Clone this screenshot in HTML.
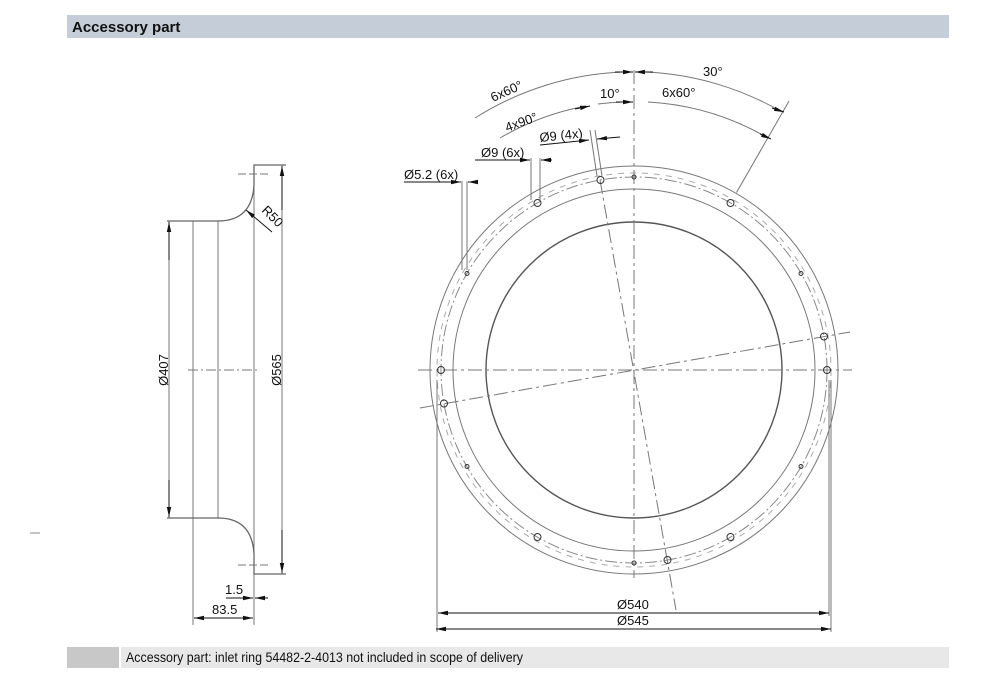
<!DOCTYPE html>
<html><head><meta charset="utf-8"><style>
body{margin:0;background:#fff;width:1000px;height:689px;overflow:hidden}
svg{display:block}
text{font-family:"Liberation Sans",Arial,sans-serif;fill:#111}
</style></head><body>
<svg width="1000" height="689" viewBox="0 0 1000 689">
<defs>
<marker id="a" markerWidth="10" markerHeight="6" refX="10" refY="3" orient="auto" markerUnits="userSpaceOnUse"><path d="M0,0.8 L10,3 L0,5.2z" fill="#111"/></marker>
</defs>
<rect x="67" y="15" width="882" height="23" fill="#c5ced8"/>
<text x="72" y="32" font-size="15" font-weight="bold">Accessory part</text>
<rect x="67" y="647" width="52" height="21" fill="#c8c8c8"/>
<rect x="121" y="647" width="828" height="21" fill="#e8e8e8"/>
<text x="126" y="662" font-size="14" textLength="397" lengthAdjust="spacingAndGlyphs">Accessory part: inlet ring 54482-2-4013 not included in scope of delivery</text>
<line x1="30" y1="533" x2="40" y2="533" stroke="#888" stroke-width="1"/>

<g stroke="#777" fill="none" stroke-width="1">
<line x1="169" y1="221" x2="169" y2="518"/>
<line x1="193" y1="221" x2="193" y2="625"/>
<line x1="218" y1="221" x2="218" y2="518"/>
<line x1="254" y1="165" x2="254" y2="625"/>
<line x1="282" y1="165" x2="282" y2="574"/>
<path d="M167,221 L218,221 Q252,221 254,185 L254,165 L286,165" stroke="#666" stroke-width="1.3"/>
<path d="M167,518 L218,518 Q252,518 254,554 L254,574 L286,574" stroke="#666" stroke-width="1.3"/>
<line x1="238" y1="174" x2="268" y2="174" stroke-dasharray="8,3"/>
<line x1="238" y1="565" x2="268" y2="565" stroke-dasharray="8,3"/>
<line x1="188" y1="370" x2="258" y2="370" stroke-dasharray="10,3,2,3"/>
</g>
<g stroke="#111" stroke-width="1">
<line x1="169" y1="260" x2="169" y2="222" marker-end="url(#a)"/>
<line x1="169" y1="480" x2="169" y2="517" marker-end="url(#a)"/>
<line x1="282" y1="210" x2="282" y2="166" marker-end="url(#a)"/>
<line x1="282" y1="530" x2="282" y2="573" marker-end="url(#a)"/>
<line x1="272" y1="232" x2="246" y2="210" marker-end="url(#a)"/>
<line x1="223" y1="618" x2="194" y2="618" marker-end="url(#a)"/>
<line x1="223" y1="618" x2="253" y2="618" marker-end="url(#a)"/>
<line x1="226" y1="598" x2="253" y2="598" marker-end="url(#a)"/>
<line x1="268" y1="598" x2="255" y2="598" marker-end="url(#a)"/>
</g>
<text x="166" y="372" font-size="13" text-anchor="middle" transform="rotate(-90 166 370)">Ø407</text>
<text x="279" y="372" font-size="13" text-anchor="middle" transform="rotate(-90 279 370)">Ø565</text>
<text x="261" y="211" font-size="13" transform="rotate(45 261 211)">R50</text>
<text x="225" y="594" font-size="13">1.5</text>
<text x="212" y="614" font-size="13">83.5</text>

<g fill="none" stroke="#777" stroke-width="1">
<circle cx="634" cy="370" r="204"/>
<circle cx="634" cy="370" r="181"/>
<circle cx="634" cy="370" r="193" stroke-dasharray="12,3,2,3" stroke="#888"/>
<circle cx="634" cy="370" r="197" stroke-dasharray="6,6" stroke="#aaa"/>
<circle cx="634" cy="370" r="148" stroke="#555" stroke-width="1.4"/>
<line x1="418" y1="370" x2="852" y2="370" stroke-dasharray="14,4,3,4"/>
<line x1="634" y1="70" x2="634" y2="578" stroke-dasharray="14,4,3,4"/>
<line x1="600" y1="180" x2="676" y2="610" stroke-dasharray="14,4,3,4"/>
<line x1="420" y1="408" x2="850" y2="332" stroke-dasharray="14,4,3,4"/>
<line x1="590" y1="130" x2="597" y2="176"/>
<line x1="595" y1="130" x2="602" y2="176"/>
<line x1="531" y1="158" x2="531" y2="200"/>
<line x1="540" y1="158" x2="540" y2="200"/>
<line x1="462" y1="181" x2="462" y2="270"/>
<line x1="467" y1="181" x2="467" y2="270"/>
<line x1="437" y1="380" x2="437" y2="632"/>
<line x1="829" y1="380" x2="829" y2="616"/>
<line x1="831" y1="380" x2="831" y2="632"/>
<line x1="736.5" y1="192.5" x2="789" y2="101"/>
<g stroke="#333">
<circle cx="730.5" cy="203" r="3.5"/><circle cx="827" cy="370" r="3.5"/><circle cx="730.5" cy="537" r="3.5"/>
<circle cx="537.5" cy="537" r="3.5"/><circle cx="441" cy="370" r="3.5"/><circle cx="537.5" cy="203" r="3.5"/>
<circle cx="600.5" cy="180" r="3.5"/><circle cx="824" cy="336.5" r="3.5"/><circle cx="667.5" cy="560" r="3.5"/><circle cx="444" cy="403.5" r="3.5"/>
<circle cx="634" cy="177" r="2"/><circle cx="801" cy="273.5" r="2"/><circle cx="801" cy="466.5" r="2"/>
<circle cx="634" cy="563" r="2"/><circle cx="467" cy="466.5" r="2"/><circle cx="467" cy="273.5" r="2"/>
</g>
<path d="M475,118 A298,298 0 0 1 622,72"/>
<path d="M646,72 A298,298 0 0 1 782,112"/>
<path d="M500,138 A268,268 0 0 1 586,106"/>
<path d="M598,104 A268,268 0 0 1 622,102"/>
<path d="M648,102 A268,268 0 0 1 768,138"/>
</g>
<g stroke="#111" stroke-width="1" fill="none">
<line x1="615" y1="72" x2="633" y2="72" marker-end="url(#a)"/>
<line x1="653" y1="72" x2="635" y2="72" marker-end="url(#a)"/>
<line x1="772" y1="108" x2="784" y2="112" marker-end="url(#a)"/>
<line x1="760" y1="134" x2="771" y2="139" marker-end="url(#a)"/>
<line x1="575" y1="109" x2="590" y2="106" marker-end="url(#a)"/>
<line x1="616" y1="102" x2="633" y2="102" marker-end="url(#a)"/>
<line x1="540" y1="145" x2="589" y2="140" marker-end="url(#a)"/>
<line x1="620" y1="137" x2="597" y2="139" marker-end="url(#a)"/>
<line x1="475" y1="160" x2="530" y2="160" marker-end="url(#a)"/>
<line x1="552" y1="160" x2="541" y2="160" marker-end="url(#a)"/>
<line x1="404" y1="182" x2="461" y2="182" marker-end="url(#a)"/>
<line x1="478" y1="182" x2="468" y2="182" marker-end="url(#a)"/>
<line x1="634" y1="613" x2="438" y2="613" marker-end="url(#a)"/>
<line x1="634" y1="613" x2="829" y2="613" marker-end="url(#a)"/>
<line x1="634" y1="629" x2="436" y2="629" marker-end="url(#a)"/>
<line x1="634" y1="629" x2="831" y2="629" marker-end="url(#a)"/>
</g>
<text x="617" y="609" font-size="13">Ø540</text>
<text x="617" y="625" font-size="13">Ø545</text>
<text x="404" y="179" font-size="13">Ø5.2 (6x)</text>
<text x="481" y="157" font-size="13">Ø9 (6x)</text>
<text x="540" y="142" font-size="13" transform="rotate(-6 540 142)">Ø9 (4x)</text>
<text x="600" y="98" font-size="13">10°</text>
<text x="703" y="76" font-size="13">30°</text>
<text x="662" y="97" font-size="13">6x60°</text>
<text x="493" y="102" font-size="13" transform="rotate(-24 493 102)">6x60°</text>
<text x="507" y="132" font-size="13" transform="rotate(-20 507 132)">4x90°</text>
</svg>
</body></html>
